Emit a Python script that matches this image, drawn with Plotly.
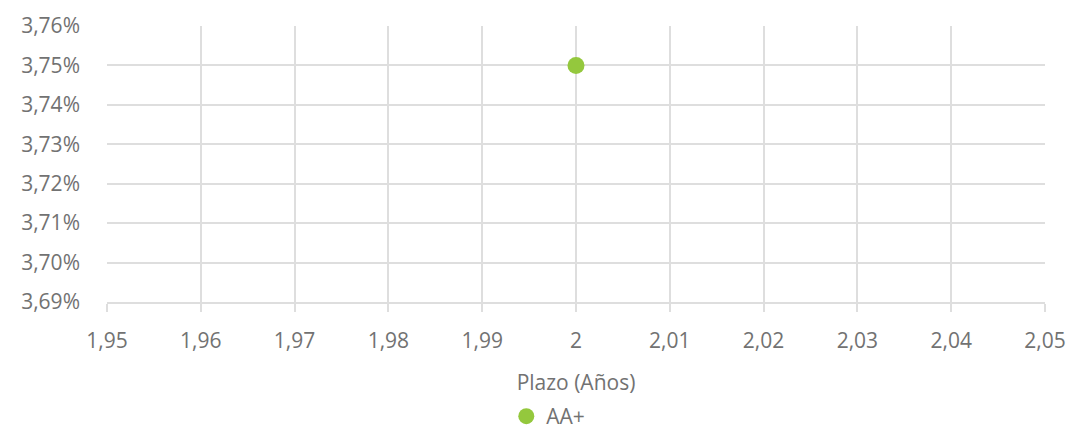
import plotly.graph_objects as go

series_name = "AA+"
plazo = [2.0]
tasa = [0.0375]

x_tickvals = [1.95, 1.96, 1.97, 1.98, 1.99, 2.00, 2.01, 2.02, 2.03, 2.04, 2.05]
x_ticktext = ["1,95", "1,96", "1,97", "1,98", "1,99", "2", "2,01", "2,02", "2,03", "2,04", "2,05"]
y_tickvals = [0.0369, 0.0370, 0.0371, 0.0372, 0.0373, 0.0374, 0.0375, 0.0376]

font_family = "Open Sans, sans-serif"
text_color = "#727272"
grid_color = "#dedede"

fig = go.Figure()
fig.add_trace(go.Scatter(
    x=plazo, y=tasa, mode="markers", name=series_name,
    marker=dict(color="#94c83d", size=17),
    showlegend=True,
))

fig.update_layout(
    width=1073, height=437,
    margin=dict(l=107, r=28, t=26, b=135),
    paper_bgcolor="white", plot_bgcolor="white",
    separators=",.",
    font=dict(family=font_family, size=21, color=text_color),
    showlegend=True,
    legend=dict(orientation="h", x=0.511, xanchor="center", xref="container",
                y=-0.015, yanchor="bottom", yref="container",
                font=dict(size=21, color=text_color), itemsizing="trace",
                itemwidth=30),
    xaxis=dict(
        range=[1.95, 2.05], tickvals=x_tickvals, ticktext=x_ticktext,
        showgrid=True, gridcolor=grid_color, gridwidth=2,
        ticks="outside", ticklen=8, tickwidth=2, tickcolor=grid_color,
        showline=True, linecolor=grid_color, linewidth=2, mirror=False,
        zeroline=False, ticklabelstandoff=11, automargin=False,
        title=dict(text="Plazo (Años)", font=dict(size=21, color=text_color), standoff=22),
    ),
    yaxis=dict(
        range=[0.0369, 0.0376], tickvals=y_tickvals, tickformat=".2%",
        showgrid=True, gridcolor=grid_color, gridwidth=2,
        zeroline=False, showline=False, ticks="", ticklabelstandoff=26,
        automargin=False,
    ),
)

fig.write_html("out.html")
